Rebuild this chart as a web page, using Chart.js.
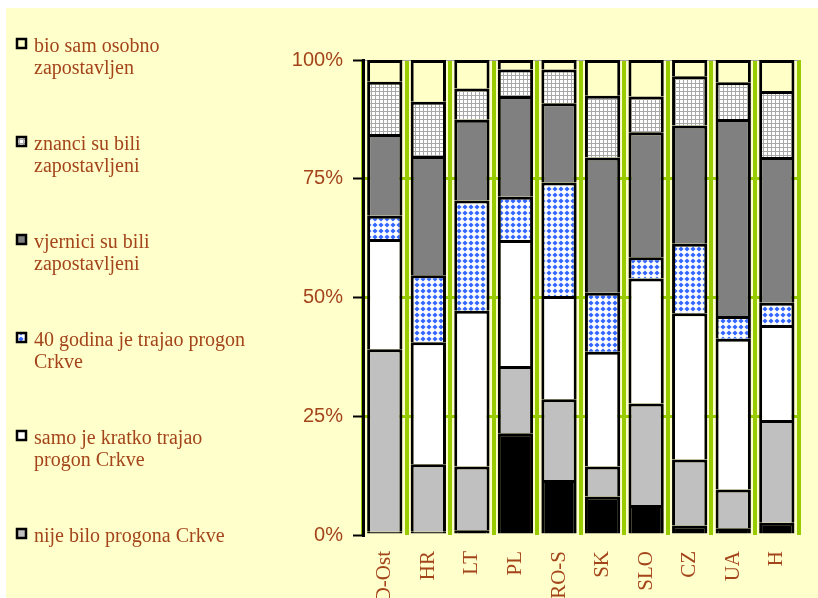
<!DOCTYPE html>
<html>
<head>
<meta charset="utf-8">
<script src="https://cdn.jsdelivr.net/npm/chart.js@4.4.0/dist/chart.umd.min.js"></script>
<style>
  body { margin: 0; background: #ffffff; }
  canvas { display: block; }
</style>
</head>
<body>
<canvas id="grafico" width="818" height="598"></canvas>
<script>
// zemlje
const zemlje = ['D-Ost', 'HR', 'LT', 'PL', 'RO-S', 'SK', 'SLO', 'CZ', 'UA', 'H']

// udjeli u % (odozdo prema gore)
const bez_odgovora = [0.7, 0.7, 1.0, 21.4, 11.6, 8.1, 6.3, 2.0, 1.4, 2.6]
const nije_bilo = [38.4, 14.2, 13.4, 14.2, 17.0, 6.3, 21.4, 13.9, 8.2, 21.6]
const kratko = [23.2, 25.7, 32.8, 26.5, 21.7, 24.2, 26.3, 30.8, 31.7, 20.0]
const cetrdeset_godina = [4.9, 14.1, 23.2, 9.1, 23.9, 12.4, 4.5, 14.6, 4.8, 4.7]
const vjernici = [17.2, 25.1, 17.0, 21.2, 16.7, 28.5, 26.3, 24.9, 41.5, 30.7]
const znanci = [11.0, 11.4, 6.6, 5.6, 7.1, 13.0, 7.5, 10.4, 7.7, 13.9]
const osobno = [4.6, 8.8, 6.0, 2.0, 2.0, 7.5, 7.7, 3.4, 4.7, 6.5]

// tekst legende, po redovima
const naziv_osobno = ['bio sam osobno', 'zapostavljen']
const naziv_znanci = ['znanci su bili', 'zapostavljeni']
const naziv_vjernici = ['vjernici su bili', 'zapostavljeni']
const naziv_40 = ['40 godina je trajao progon', 'Crkve']
const naziv_kratko = ['samo je kratko trajao', 'progon Crkve']
const naziv_nije = ['nije bilo progona Crkve']

const y_ticks = [0, 25, 50, 75, 100]

const smeda = '#a3441a'
const pozadina = '#ffffcc'

// uzorci
function uzorak_mreza() {
    const c = document.createElement('canvas')
    c.width = 4; c.height = 4
    const g = c.getContext('2d')
    g.fillStyle = '#ffffff'
    g.fillRect(0, 0, 4, 4)
    g.fillStyle = '#a8a8a8'
    g.fillRect(3, 0, 1, 4)
    g.fillRect(0, 3, 4, 1)
    return g.createPattern(c, 'repeat')
}
function uzorak_tocke() {
    const c = document.createElement('canvas')
    c.width = 6; c.height = 6
    const g = c.getContext('2d')
    g.fillStyle = '#ffffff'
    g.fillRect(0, 0, 6, 6)
    g.fillStyle = '#3366ff'
    g.beginPath()
    g.moveTo(3, 0.4)
    g.lineTo(5.6, 3)
    g.lineTo(3, 5.6)
    g.lineTo(0.4, 3)
    g.closePath()
    g.fill()
    return g.createPattern(c, 'repeat')
}
const mreza = uzorak_mreza()
const tocke = uzorak_tocke()

function skup(linije, podaci, boja) {
    return {
        label: linije.join(' '),
        linije: linije,
        data: podaci,
        backgroundColor: boja,
        borderColor: '#000000',
        borderWidth: 3,
        borderSkipped: 'start',
        barPercentage: 0.81,
        categoryPercentage: 1.0
    }
}

const podaci_grafa = {
    labels: zemlje,
    datasets: [
        skup([], bez_odgovora, '#000000'),
        skup(naziv_nije, nije_bilo, '#c0c0c0'),
        skup(naziv_kratko, kratko, '#ffffff'),
        skup(naziv_40, cetrdeset_godina, tocke),
        skup(naziv_vjernici, vjernici, '#808080'),
        skup(naziv_znanci, znanci, mreza),
        skup(naziv_osobno, osobno, '#ffffc8')
    ]
}

// pozadina
const plugin_pozadina = {
    id: 'pozadina',
    beforeDraw(chart) {
        const ctx = chart.ctx
        ctx.save()
        ctx.fillStyle = '#ffffff'
        ctx.fillRect(0, 0, chart.width, chart.height)
        ctx.fillStyle = pozadina
        ctx.fillRect(6, 8, chart.width - 6, chart.height - 8)
        ctx.restore()
    }
}

// legenda lijevo, odozgo prema dolje
const plugin_legenda = {
    id: 'legenda_lijevo',
    afterDraw(chart) {
        const ctx = chart.ctx
        const skupovi = chart.data.datasets.filter(d => d.linije.length > 0).reverse()
        ctx.save()
        ctx.font = '20px "Liberation Serif", "Times New Roman", serif'
        ctx.textBaseline = 'alphabetic'
        ctx.textAlign = 'left'
        skupovi.forEach((d, i) => {
            const cy = 43.5 + i * 98
            ctx.fillStyle = d.backgroundColor
            ctx.fillRect(16, cy - 5.5, 11, 11)
            ctx.strokeStyle = '#000000'
            ctx.lineWidth = 2.5
            ctx.strokeRect(17, cy - 4.5, 9, 9)
            ctx.fillStyle = smeda
            d.linije.forEach((t, j) => {
                ctx.fillText(t, 34, cy + 8 + j * 22)
            })
        })
        ctx.restore()
    }
}

const config = {
    type: 'bar',
    data: podaci_grafa,
    options: {
        responsive: false,
        animation: false,
        layout: { padding: { left: 263, top: 60, right: 0, bottom: 0 } },
        plugins: {
            legend: { display: false },
            tooltip: { enabled: false }
        },
        scales: {
            x: {
                stacked: true,
                afterFit(scale) { scale.height = 63 },
                border: { display: false },
                grid: {
                    offset: true,
                    color: '#99cc00',
                    lineWidth: 4,
                    drawTicks: false
                },
                ticks: {
                    autoSkip: false,
                    minRotation: 90,
                    maxRotation: 90,
                    padding: 16,
                    color: smeda,
                    font: { family: '"Liberation Serif", "Times New Roman", serif', size: 21 }
                }
            },
            y: {
                stacked: true,
                min: 0,
                max: 100,
                afterFit(scale) { scale.width = 100 },
                afterBuildTicks(scale) { scale.ticks = y_ticks.map(v => ({ value: v })) },
                border: { display: true, color: '#000000', width: 3 },
                grid: {
                    color: c => c.tick && c.tick.value === 100 ? '#a0a0a0' : (c.tick && c.tick.value === 0 ? 'rgba(0,0,0,0)' : '#99cc00'),
                    lineWidth: c => c.tick && c.tick.value === 100 ? 1 : 3,
                    tickColor: '#000000',
                    tickLength: 10,
                    tickWidth: 2
                },
                ticks: {
                    padding: 10,
                    color: smeda,
                    font: { family: '"Liberation Sans", Arial, sans-serif', size: 20 },
                    callback: v => v + '%'
                }
            }
        }
    },
    plugins: [plugin_pozadina, plugin_legenda]
}

new Chart(document.getElementById('grafico'), config)
</script>
</body>
</html>
